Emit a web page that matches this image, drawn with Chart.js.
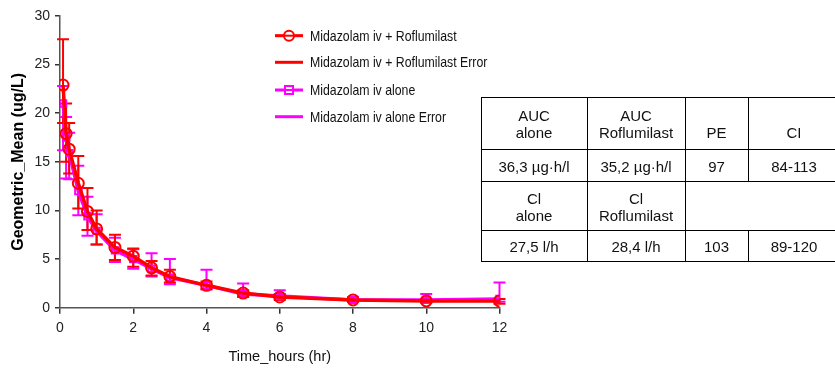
<!DOCTYPE html>
<html>
<head>
<meta charset="utf-8">
<script src="https://cdn.jsdelivr.net/npm/chart.js@4/dist/chart.umd.min.js"></script>
<style>
  html, body { margin: 0; padding: 0; background: #fff; }
  #wrap { position: relative; width: 835px; height: 371px; overflow: hidden; }
  #chart { position: absolute; left: 0; top: 0; }
  .cell {
    position: absolute; box-sizing: border-box;
    font-family: "Liberation Sans", Arial, sans-serif; font-size: 15px; color: #111;
    text-align: center; line-height: 17px;
    display: flex; flex-direction: column; justify-content: center;
  }
  .hl { position: absolute; background: #000; height: 1px; }
  .vl { position: absolute; background: #000; width: 1px; }
</style>
</head>
<body>
<div id="wrap">
  <canvas id="chart" width="835" height="371"></canvas>
  <div id="tbl"></div>
</div>
<script>
// Sampling times (hours)
const timeHours = [0.083, 0.167, 0.25, 0.5, 0.75, 1, 1.5, 2, 2.5, 3, 4, 5, 6, 8, 10, 12];

// Midazolam iv + Roflumilast: geometric mean and error range (ug/L)
const comboMean  = [22.9, 17.9, 16.3, 12.8, 9.9, 8.1, 6.2, 5.3, 4.1, 3.2, 2.3, 1.5, 1.1, 0.8, 0.7, 0.7];
const comboLow   = [19.0, 15.0, 13.8, 10.2, 8.0, 6.5, 4.9, 4.2, 3.3, 2.6, 1.9, 1.1, 0.8, 0.6, 0.5, 0.4];
const comboHigh  = [27.6, 21.0, 19.0, 15.6, 12.3, 10.0, 7.5, 6.1, 4.8, 3.9, 2.7, 1.8, 1.4, 1.0, 0.9, 0.9];

// Midazolam iv alone: geometric mean and error range (ug/L)
const aloneMean  = [21.0, 17.5, 15.9, 12.0, 9.4, 7.9, 5.9, 5.0, 4.0, 3.1, 2.3, 1.4, 1.2, 0.8, 0.8, 0.9];
const aloneLow   = [16.2, 13.3, 13.2, 9.5, 7.4, 6.5, 4.7, 4.0, 3.2, 2.4, 1.9, 1.2, 0.9, 0.6, 0.6, 0.6];
const aloneHigh  = [22.8, 19.6, 18.0, 14.6, 11.4, 9.6, 7.2, 6.0, 5.6, 5.0, 3.9, 2.5, 1.8, 1.1, 1.4, 2.6];

// Axis ticks
const xTicks = [0, 2, 4, 6, 8, 10, 12];
const yTicks = [0, 5, 10, 15, 20, 25, 30];

// Legend labels
const legendLabels = [
  "Midazolam iv + Roflumilast",
  "Midazolam iv + Roflumilast Error",
  "Midazolam iv alone",
  "Midazolam iv alone Error"
];

// Pharmacokinetic summary table
const tableHeader1 = ["AUC<br>alone", "AUC<br>Roflumilast", "PE", "CI"];
const tableRow1    = ["36,3 µg·h/l", "35,2 µg·h/l", "97", "84-113"];
const tableHeader2 = ["Cl<br>alone", "Cl<br>Roflumilast"];
const tableRow2    = ["27,5 l/h", "28,4 l/h", "103", "89-120"];

const RED = "#ff0000";
const MAGENTA = "#ff00ff";
const SANS = '"Liberation Sans", Arial, sans-serif';

// Error bars with caps, drawn through the chart's scales
const errorBars = {
  id: "errorBars",
  beforeDatasetsDraw(chart) {
    const { ctx, scales: { x, y } } = chart;
    const sets = [
      { lo: aloneLow, hi: aloneHigh, color: MAGENTA },
      { lo: comboLow, hi: comboHigh, color: RED }
    ];
    ctx.save();
    sets.forEach(s => {
      ctx.strokeStyle = s.color;
      ctx.lineWidth = 2;
      timeHours.forEach((t, i) => {
        const px = x.getPixelForValue(t);
        const pl = y.getPixelForValue(s.lo[i]);
        const ph = y.getPixelForValue(s.hi[i]);
        ctx.beginPath();
        ctx.moveTo(px, pl); ctx.lineTo(px, ph);
        ctx.moveTo(px - 6, pl); ctx.lineTo(px + 6, pl);
        ctx.moveTo(px - 6, ph); ctx.lineTo(px + 6, ph);
        ctx.stroke();
      });
    });
    ctx.restore();
  }
};

// Legend block placed inside the plot area (condensed lettering)
const legendBlock = {
  id: "legendBlock",
  afterDraw(chart) {
    const { ctx } = chart;
    const x0 = 275, x1 = 303, tx = 310;
    const rows = [35.7, 62.3, 90, 116.7];
    const colors = [RED, RED, MAGENTA, MAGENTA];
    ctx.save();
    rows.forEach((ry, i) => {
      ctx.strokeStyle = colors[i];
      ctx.lineWidth = 3;
      ctx.beginPath(); ctx.moveTo(x0, ry); ctx.lineTo(x1, ry); ctx.stroke();
      ctx.lineWidth = 2;
      if (i === 0) {
        ctx.fillStyle = "#fff";
        ctx.beginPath(); ctx.arc(289, ry, 5, 0, Math.PI * 2); ctx.fill(); ctx.stroke();
        ctx.beginPath(); ctx.moveTo(x0, ry); ctx.lineTo(x1, ry); ctx.stroke();
      } else if (i === 2) {
        ctx.fillStyle = "#fff";
        ctx.fillRect(285, ry - 4, 8, 8);
        ctx.strokeRect(285, ry - 4, 8, 8);
        ctx.beginPath(); ctx.moveTo(x0, ry); ctx.lineTo(x1, ry); ctx.stroke();
      }
      ctx.save();
      ctx.translate(tx, ry + 1);
      ctx.scale(0.82, 1);
      ctx.fillStyle = "#111";
      ctx.font = "15px " + SANS;
      ctx.textBaseline = "middle";
      ctx.textAlign = "left";
      ctx.fillText(legendLabels[i], 0, 0);
      ctx.restore();
    });
    ctx.restore();
  }
};

new Chart(document.getElementById("chart"), {
  type: "line",
  data: {
    datasets: [
      {
        label: legendLabels[0],
        data: timeHours.map((t, i) => ({ x: t, y: comboMean[i] })),
        borderColor: RED, backgroundColor: "rgba(0,0,0,0)",
        borderWidth: 3.5, pointStyle: "circle", pointRadius: 5.5,
        pointBorderWidth: 2, pointBorderColor: RED, pointBackgroundColor: "rgba(0,0,0,0)",
        tension: 0, order: 0
      },
      {
        label: legendLabels[2],
        data: timeHours.map((t, i) => ({ x: t, y: aloneMean[i] })),
        borderColor: MAGENTA, backgroundColor: "rgba(0,0,0,0)",
        borderWidth: 3.5, pointStyle: "rect", pointRadius: 4.5,
        pointBorderWidth: 2, pointBorderColor: MAGENTA, pointBackgroundColor: "rgba(0,0,0,0)",
        tension: 0, order: 1
      }
    ]
  },
  options: {
    responsive: false,
    animation: false,
    events: [],
    layout: { padding: { top: 16, right: 335.5, left: 0, bottom: 0 } },
    plugins: { legend: { display: false }, tooltip: { enabled: false } },
    scales: {
      x: {
        type: "linear", min: 0, max: 12,
        afterFit(scale) { scale.height = 63.3; },
        afterBuildTicks(scale) { scale.ticks = xTicks.map(v => ({ value: v })); },
        ticks: { font: { size: 14, family: SANS }, color: "#222", padding: 6, maxRotation: 0 },
        grid: { drawOnChartArea: false, drawTicks: true, tickLength: 6, color: "#333", lineWidth: 1.5 },
        border: { display: true, color: "#555", width: 1.5 },
        title: {
          display: true, text: "Time_hours (hr)", color: "#111",
          font: { size: 14.5, family: SANS }, padding: { bottom: 5 }
        }
      },
      y: {
        type: "linear", min: 0, max: 30,
        afterFit(scale) { scale.width = 60; },
        afterBuildTicks(scale) { scale.ticks = yTicks.map(v => ({ value: v })); },
        ticks: { font: { size: 14, family: SANS }, color: "#222", padding: 5 },
        grid: { drawOnChartArea: false, drawTicks: true, tickLength: 5, color: "#333", lineWidth: 1.5 },
        border: { display: true, color: "#555", width: 1.5 },
        title: {
          display: true, text: "Geometric_Mean (ug/L)", color: "#000",
          font: { size: 16, weight: "bold", family: SANS },
          padding: { top: 9 }
        }
      }
    }
  },
  plugins: [errorBars, legendBlock]
});

// Summary table: cell boxes and rules
(function buildTable() {
  const tbl = document.getElementById("tbl");
  const cols = [481, 587, 685, 748, 840];
  const rows = [97, 149, 181, 230, 261];
  const put = (html, c0, c1, r, extraTop) => {
    const d = document.createElement("div");
    d.className = "cell";
    d.style.left = cols[c0] + "px";
    d.style.width = (cols[c1] - cols[c0]) + "px";
    d.style.top = (rows[r] + (extraTop || 0)) + "px";
    d.style.height = (rows[r + 1] - rows[r]) + "px";
    d.innerHTML = html;
    tbl.appendChild(d);
  };
  tableHeader1.forEach((h, i) => put(h, i, i + 1, 0, i >= 2 ? 9 : 1));
  tableRow1.forEach((h, i) => put(h, i, i + 1, 1, 1));
  tableHeader2.forEach((h, i) => put(h, i, i + 1, 2, 1));
  tableRow2.forEach((h, i) => put(h, i, i + 1, 3, 1));
  rows.forEach(y => {
    const l = document.createElement("div");
    l.className = "hl";
    l.style.left = cols[0] + "px"; l.style.top = y + "px";
    l.style.width = (cols[4] - cols[0]) + "px";
    tbl.appendChild(l);
  });
  const vline = (x, y0, y1) => {
    const l = document.createElement("div");
    l.className = "vl";
    l.style.left = x + "px"; l.style.top = y0 + "px";
    l.style.height = (y1 - y0 + 1) + "px";
    tbl.appendChild(l);
  };
  vline(cols[0], rows[0], rows[4]);
  vline(cols[1], rows[0], rows[4]);
  vline(cols[2], rows[0], rows[4]);
  vline(cols[3], rows[0], rows[2]);
  vline(cols[3], rows[3], rows[4]);
})();
</script>
</body>
</html>
